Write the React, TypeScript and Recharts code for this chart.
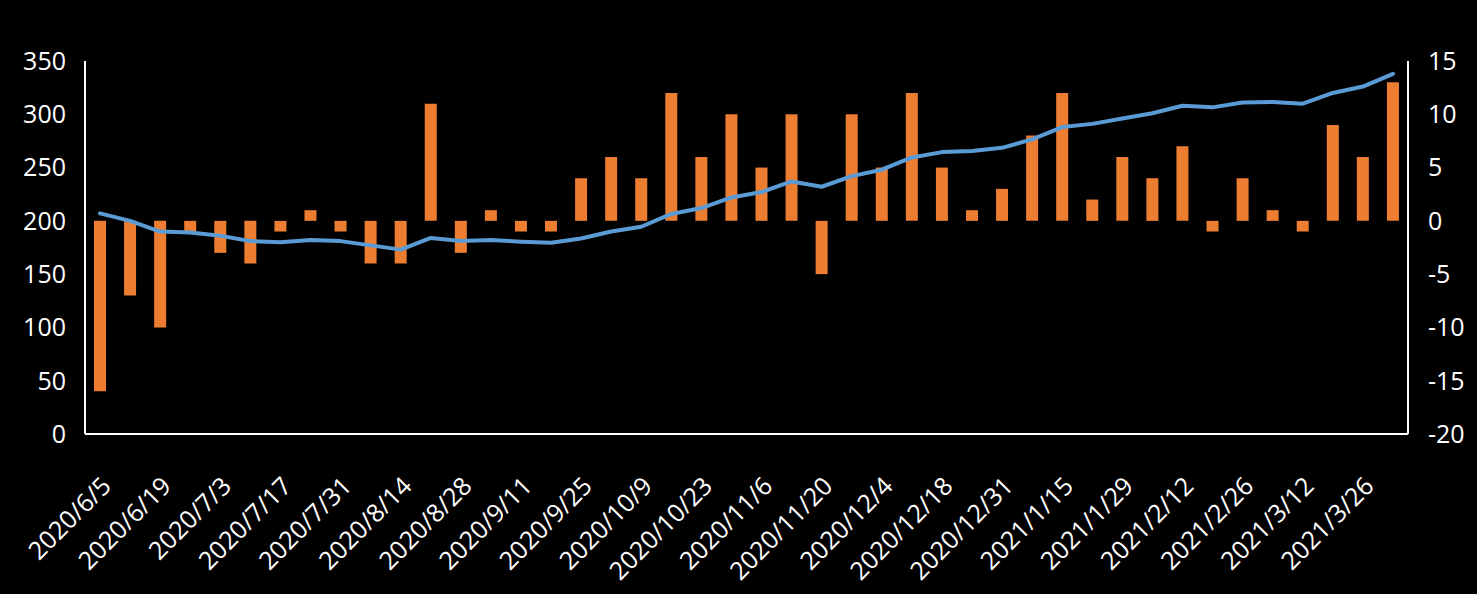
import React from "react";
import { ComposedChart, Bar, Line, XAxis, YAxis } from "recharts";

const dates = [
  "2020/6/5", "2020/6/12", "2020/6/19", "2020/6/26", "2020/7/3", "2020/7/10",
  "2020/7/17", "2020/7/24", "2020/7/31", "2020/8/7", "2020/8/14", "2020/8/21",
  "2020/8/28", "2020/9/4", "2020/9/11", "2020/9/18", "2020/9/25", "2020/10/2",
  "2020/10/9", "2020/10/16", "2020/10/23", "2020/10/30", "2020/11/6", "2020/11/13",
  "2020/11/20", "2020/11/27", "2020/12/4", "2020/12/11", "2020/12/18", "2020/12/25",
  "2020/12/31", "2021/1/8", "2021/1/15", "2021/1/22", "2021/1/29", "2021/2/5",
  "2021/2/12", "2021/2/19", "2021/2/26", "2021/3/5", "2021/3/12", "2021/3/19",
  "2021/3/26", "2021/4/2",
];

const lineValues = [
  207, 200, 190, 189, 186, 181, 180, 182, 181, 177, 173, 184, 181, 182, 180.5,
  179.5, 183.5, 190, 194.5, 206.5, 212, 222, 227, 237, 232, 242, 248, 259.5,
  264.5, 265.5, 268.5, 276.5, 288, 291, 296, 301, 308, 306.5, 311, 311.5, 310,
  320, 326, 338,
];

const barValues = [
  -16, -7, -10, -1, -3, -4, -1, 1, -1, -4, -4, 11, -3, 1, -1, -1, 4, 6, 4, 12,
  6, 10, 5, 10, -5, 10, 5, 12, 5, 1, 3, 8, 12, 2, 6, 4, 7, -1, 4, 1, -1, 9, 6, 13,
];

const leftTicks = [0, 50, 100, 150, 200, 250, 300, 350];
const rightTicks = [-20, -15, -10, -5, 0, 5, 10, 15];

const data = dates.map((d, i) => ({ date: d, level: lineValues[i], change: barValues[i] }));

const FONT = "'Open Sans', sans-serif";
const tickStyle = { fill: "#ffffff", fontSize: 25, fontFamily: FONT };

export default function App() {
  return (
    <div style={{ position: "absolute", left: 0, top: 0, width: 1477, height: 594, background: "#000000" }}>
      <ComposedChart
        width={1477}
        height={594}
        data={data}
        margin={{ top: 61, right: 0, left: 0, bottom: 0 }}
        barSize={12}
      >
        <XAxis
          dataKey="date"
          interval={1}
          angle={-45}
          textAnchor="end"
          height={160}
          tickLine={false}
          tickSize={0}
          tickMargin={41}
          axisLine={{ stroke: "#ffffff", strokeWidth: 2 }}
          tick={tickStyle}
        />
        <YAxis
          yAxisId="left"
          orientation="left"
          width={85}
          domain={[0, 350]}
          ticks={leftTicks}
          tickLine={false}
          tickSize={0}
          tickMargin={19}
          axisLine={{ stroke: "#ffffff", strokeWidth: 2 }}
          tick={tickStyle}
        />
        <YAxis
          yAxisId="right"
          orientation="right"
          width={69}
          domain={[-20, 15]}
          ticks={rightTicks}
          tickLine={false}
          tickSize={0}
          tickMargin={20}
          axisLine={{ stroke: "#ffffff", strokeWidth: 2 }}
          tick={{ ...tickStyle, textAnchor: "start" }}
        />
        <Bar yAxisId="right" dataKey="change" fill="#ED7D31" isAnimationActive={false} />
        <Line
          yAxisId="left"
          dataKey="level"
          stroke="#5B9BD5"
          strokeWidth={4}
          strokeLinecap="round"
          strokeLinejoin="round"
          dot={false}
          activeDot={false}
          type="linear"
          isAnimationActive={false}
        />
      </ComposedChart>
    </div>
  );
}
